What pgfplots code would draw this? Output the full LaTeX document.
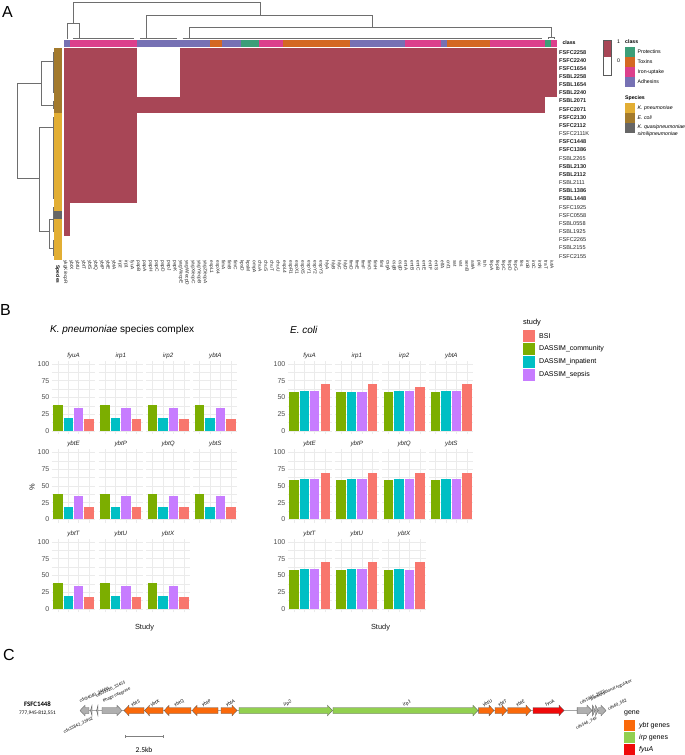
\documentclass[border=0pt]{standalone}
\usepackage{fontspec}
\setmainfont{Liberation Sans}
\newfontfamily\cfont{Carlito}
\usepackage{pgfplots}
\pgfplotsset{compat=1.18}
\newcommand\fs[1]{\fontsize{#1bp}{#1bp}\selectfont}

\definecolor{hm}{RGB}{168,70,86}
\definecolor{cpro}{RGB}{60,158,120}
\definecolor{ctox}{RGB}{212,104,35}
\definecolor{ciro}{RGB}{220,64,140}
\definecolor{cadh}{RGB}{118,113,180}
\definecolor{skp}{RGB}{226,174,52}
\definecolor{sec}{RGB}{163,122,45}
\definecolor{skq}{RGB}{102,102,102}
\definecolor{dend}{RGB}{110,110,110}
\definecolor{cbsi}{RGB}{248,118,109}
\definecolor{ccom}{RGB}{124,174,0}
\definecolor{cinp}{RGB}{0,191,196}
\definecolor{csep}{RGB}{199,124,255}
\definecolor{gridc}{RGB}{235,235,235}
\definecolor{tickc}{RGB}{77,77,77}
\definecolor{gybt}{RGB}{250,105,10}
\definecolor{girp}{RGB}{146,208,80}
\definecolor{gfyu}{RGB}{240,10,10}
\definecolor{ggry}{RGB}{175,175,175}
\definecolor{gedge}{RGB}{90,90,90}

\pgfplotsset{
  facet/.style={anchor=north west, scale only axis, width=44bp, height=73.7bp,
    ybar, bar width=0.9, xmin=0.4, xmax=4.6, ymin=-5, ymax=105,
    xtick={1,2,3,4}, xticklabels={}, ytick={0,25,50,75,100},
    minor ytick={12.5,37.5,62.5,87.5}, yticklabels={},
    grid=both, major grid style={draw=gridc, line width=0.55bp},
    minor grid style={draw=gridc, line width=0.3bp},
    axis line style={draw=none}, major tick length=0pt, minor tick length=0pt,
    clip=false},
  ylab/.style={yticklabels={0,25,50,75,100},
    yticklabel style={font=\fs{7}, text=tickc, inner sep=0pt, xshift=-2bp}},
}

% one facet: x, y(top), gene, community, inpatient, sepsis, BSI, extra options
\newcommand{\facet}[8]{%
  \begin{axis}[facet, at={(#1bp,-#2bp)}, #8]
    \addplot[bar shift=0pt, fill=ccom, draw=none] coordinates {(1,#4)};
    \addplot[bar shift=0pt, fill=cinp, draw=none] coordinates {(2,#5)};
    \addplot[bar shift=0pt, fill=csep, draw=none] coordinates {(3,#6)};
    \addplot[bar shift=0pt, fill=cbsi, draw=none] coordinates {(4,#7)};
    \node[anchor=base, yshift=3.3bp, font=\fs{6.2}\itshape, text=black!85]
      at (axis description cs:0.5,1) {#3};
  \end{axis}}

\newcommand{\blk}[5]{\addplot[fill=#5, draw=none] coordinates {(#1,#3) (#2,#3) (#2,#4) (#1,#4)} -- cycle;}

% genes in kb: start, end, colour
\newcommand{\gener}[3]{%
  \pgfmathsetmacro\gA{#1}\pgfmathsetmacro\gB{#2}\pgfmathsetmacro\gH{max(#1,#2-0.33)}%
  \addplot[fill=#3, draw=gedge, line width=0.3bp] coordinates
    {(\gA,-3) (\gH,-3) (\gH,-5.3) (\gB,0) (\gH,5.3) (\gH,3) (\gA,3)} -- cycle;}
\newcommand{\genel}[3]{%
  \pgfmathsetmacro\gA{#1}\pgfmathsetmacro\gB{#2}\pgfmathsetmacro\gH{min(#2,#1+0.33)}%
  \addplot[fill=#3, draw=gedge, line width=0.3bp] coordinates
    {(\gB,-3) (\gH,-3) (\gH,-5.3) (\gA,0) (\gH,5.3) (\gH,3) (\gB,3)} -- cycle;}

\begin{document}
\begin{tikzpicture}[x=1bp, y=-1bp]
\useasboundingbox (0,0) rectangle (685,755);
\fill[white] (0,0) rectangle (685,755);

%% ---------------- Panel A ----------------
\begin{axis}[at={(64bp,-48bp)}, anchor=north west, scale only axis, width=493bp, height=212.2bp,
  xmin=0, xmax=81, ymin=0, ymax=26, clip=false,
  axis line style={draw=none}, major tick length=0pt,
  xtick={0.5,1.5,...,80.5},
  xticklabels={ykgK/ecpR,ybtX,ybtU,ybtT,ybtS,ybtQ,ybtP,ybtE,ybtA,irp2,irp1,fyuA,
    papB,papA,papH,papC,papD,papJ,papK,yagV/ecpE,yagW/ecpD,yagX/ecpC,yagY/ecpB,yagZ/ecpA,
    espL1,espX4,fimA,fimB,fimC,kpsD,kpsM,ompA,chuA,chuS,chuT,chuU,
    espL4,espR1,espX1,espX5,espY1,espY2,espY3,hlyA,hlyB,hlyC,hlyD,
    fimD,fimE,fimF,fimG,fimH,fimI,csgA,csgB,csgD,entA,entB,entC,entE,entF,entS,elfA,
    cnf1,sat,vat,senB,astA,pic,tsh,fepA,fepB,fepC,fepD,fepG,fes,iroB,iroC,iroN,traT,iutA},
  xticklabel style={rotate=-90, anchor=west, font=\fs{4.8}, text=black!85, inner sep=0pt, yshift=-1.8bp},
  ytick={0.5,1.5,...,25.5},
  yticklabels={FSFC2155,FSBL2155,FSFC2265,FSBL1925,FSBL0558,FSFC0558,FSFC1925,
    \textbf{FSBL1448},\textbf{FSBL1386},FSBL2111,\textbf{FSBL2112},\textbf{FSBL2130},FSBL2265,
    \textbf{FSFC1386},\textbf{FSFC1448},FSFC2111K,\textbf{FSFC2112},\textbf{FSFC2130},
    \textbf{FSFC2071},\textbf{FSBL2071},\textbf{FSBL2240},\textbf{FSBL1654},\textbf{FSBL2258},
    \textbf{FSFC1654},\textbf{FSFC2240},\textbf{FSFC2258}},
  yticklabel pos=right,
  yticklabel style={anchor=west, font=\fs{5.6}, text=black!85, inner sep=0pt, xshift=2bp}]
% presence (1) cells
\blk{0}{12}{20}{26}{hm}
\blk{19}{81}{20}{26}{hm}
\blk{0}{79}{18}{20}{hm}
\blk{0}{12}{7}{18}{hm}
\blk{0}{1}{3}{7}{hm}
% class annotation
\blk{0}{1}{26.18}{27.04}{cadh}
\blk{1}{12}{26.18}{27.04}{ciro}
\blk{12}{24}{26.18}{27.04}{cadh}
\blk{24}{26}{26.18}{27.04}{ctox}
\blk{26}{29}{26.18}{27.04}{cadh}
\blk{29}{32}{26.18}{27.04}{cpro}
\blk{32}{36}{26.18}{27.04}{ciro}
\blk{36}{47}{26.18}{27.04}{ctox}
\blk{47}{56}{26.18}{27.04}{cadh}
\blk{56}{62}{26.18}{27.04}{ciro}
\blk{62}{63}{26.18}{27.04}{cadh}
\blk{63}{70}{26.18}{27.04}{ctox}
\blk{70}{79}{26.18}{27.04}{ciro}
\blk{79}{80}{26.18}{27.04}{cpro}
\blk{80}{81}{26.18}{27.04}{ciro}
% species annotation
\blk{-1.725}{-0.41}{18}{26}{sec}
\blk{-1.725}{-0.41}{6}{18}{skp}
\blk{-1.725}{-0.41}{5}{6}{skq}
\blk{-1.725}{-0.41}{0}{5}{skp}
\end{axis}

% dendrograms, in pixel units
\begin{axis}[at={(0bp,0bp)}, anchor=north west, scale only axis, width=685bp, height=300bp,
  xmin=0, xmax=685, ymin=0, ymax=300, y dir=reverse, hide axis, clip=false]
\addplot[draw=dend, line width=0.6bp] coordinates {(73,22.9) (73,2) (260,2) (260,15.6)};
\addplot[draw=dend, line width=0.6bp] coordinates {(67,39) (67,22.9) (79,22.9) (79,38.6)};
\addplot[draw=dend, line width=0.6bp] coordinates {(146,38.6) (146,15.6) (372,15.6) (372,26.9)};
\addplot[draw=dend, line width=0.6bp] coordinates {(189,38.6) (189,26.9) (551,26.9) (551,37.5)};
\addplot[draw=dend, line width=0.6bp] coordinates {(547.9,39) (547.9,37.5) (554,37.5) (554,39)};
\addplot[draw=dend, line width=0.6bp] coordinates {(73.1,38.6) (134,38.6)};
\addplot[draw=dend, line width=0.6bp] coordinates {(140.1,38.6) (176.6,38.6)};
\addplot[draw=dend, line width=0.6bp] coordinates {(182.7,38.6) (541.7,38.6)};
% rows
\addplot[draw=dend, line width=0.6bp] coordinates {(41,83) (17,83) (17,178) (39,178)};
\addplot[draw=dend, line width=0.6bp] coordinates {(53,61) (41,61) (41,105) (53,105)};
\addplot[draw=dend, line width=0.6bp] coordinates {(53,127) (39,127) (39,231) (49,231)};
\addplot[draw=dend, line width=0.6bp] coordinates {(53,219) (49,219) (49,248) (53,248)};
\addplot[draw=dend, line width=0.6bp] coordinates {(53,52.1) (53,92.9)};
\addplot[draw=dend, line width=0.6bp] coordinates {(53,101) (53,109.2)};
\addplot[draw=dend, line width=0.6bp] coordinates {(53,117.4) (53,199)};
\addplot[draw=dend, line width=0.6bp] coordinates {(53,207.2) (53,231.6)};
\addplot[draw=dend, line width=0.6bp] coordinates {(53,239.8) (53,256)};
\end{axis}

\node[font=\fs{16}] at (7.5,11.5) {A};
\node[anchor=west, font=\bfseries\fs{5.2}] at (559,43) {class};
\node[rotate=-90, anchor=west, font=\bfseries\fs{4.8}] at (57.5,262) {Species};
% colour key
\fill[hm] (603,40) rectangle (611,57.5);
\draw[gedge, line width=0.4bp] (603,40) rectangle (611,75);
\node[anchor=west, font=\fs{5.2}] at (613.5,42) {1};
\node[anchor=west, font=\fs{5.2}] at (613.5,61) {0};
% class key
\node[anchor=west, font=\bfseries\fs{5.2}, inner sep=0pt] at (625,42) {class};
\fill[cpro] (625,47) rectangle (635,57);
\fill[ctox] (625,57) rectangle (635,67);
\fill[ciro] (625,67) rectangle (635,77);
\fill[cadh] (625,77) rectangle (635,87);
\node[anchor=west, font=\fs{5.2}, inner sep=0pt] at (637.5,52) {Protectins};
\node[anchor=west, font=\fs{5.2}, inner sep=0pt] at (637.5,62) {Toxins};
\node[anchor=west, font=\fs{5.2}, inner sep=0pt] at (637.5,72) {Iron-uptake};
\node[anchor=west, font=\fs{5.2}, inner sep=0pt] at (637.5,82) {Adhesins};
\node[anchor=west, font=\bfseries\fs{5.2}, inner sep=0pt] at (625,98) {Species};
\fill[skp] (625,103) rectangle (635,113);
\fill[sec] (625,113) rectangle (635,123);
\fill[skq] (625,123) rectangle (635,133);
\node[anchor=west, font=\itshape\fs{5.2}, inner sep=0pt] at (637.5,108) {K. pneumoniae};
\node[anchor=west, font=\itshape\fs{5.2}, inner sep=0pt] at (637.5,118) {E. coli};
\node[anchor=west, font=\itshape\fs{5.2}, inner sep=0pt] at (637.5,127.5) {K. quasipneumoniae};
\node[anchor=west, font=\itshape\fs{5.2}, inner sep=0pt] at (637.5,134) {similipneumoniae};

%% ---------------- Panel B ----------------
\node[font=\fs{16}] at (5.5,310) {B};
\node[anchor=west, font=\fs{10}, inner sep=0pt] at (50,330) {\textit{K. pneumoniae} species complex};
\node[anchor=west, font=\itshape\fs{10}, inner sep=0pt] at (290,330) {E. coli};

\facet{51.5}{360.6}{fyuA}{38.5}{19.2}{34.6}{18.2}{ylab}
\facet{98.8}{360.6}{irp1}{38.5}{19.2}{34.6}{18.2}{}
\facet{146.1}{360.6}{irp2}{38.5}{19.2}{34.6}{18.2}{}
\facet{193.4}{360.6}{ybtA}{38.5}{19.2}{34.6}{18.2}{}
\facet{51.5}{449.1}{ybtE}{38.5}{19.2}{34.6}{18.2}{ylab}
\facet{98.8}{449.1}{ybtP}{38.5}{19.2}{34.6}{18.2}{}
\facet{146.1}{449.1}{ybtQ}{38.5}{19.2}{34.6}{18.2}{}
\facet{193.4}{449.1}{ybtS}{38.5}{19.2}{34.6}{18.2}{}
\facet{51.5}{538.6}{ybtT}{38.5}{19.2}{34.6}{18.2}{ylab}
\facet{98.8}{538.6}{ybtU}{38.5}{19.2}{34.6}{18.2}{}
\facet{146.1}{538.6}{ybtX}{38.5}{19.2}{34.6}{18.2}{}

\facet{287.5}{360.6}{fyuA}{58.3}{60}{60}{70}{ylab}
\facet{334.8}{360.6}{irp1}{58.3}{58.3}{58.3}{70}{}
\facet{382.1}{360.6}{irp2}{58.3}{60}{60}{65.8}{}
\facet{429.4}{360.6}{ybtA}{58.3}{60}{60}{70}{}
\facet{287.5}{449.1}{ybtE}{58.3}{60}{60}{70}{ylab}
\facet{334.8}{449.1}{ybtP}{58.3}{60}{60}{70}{}
\facet{382.1}{449.1}{ybtQ}{58.3}{60}{60}{70}{}
\facet{429.4}{449.1}{ybtS}{58.3}{60}{60}{70}{}
\facet{287.5}{538.6}{ybtT}{58.3}{60}{60}{70}{ylab}
\facet{334.8}{538.6}{ybtU}{58.3}{60}{60}{70}{}
\facet{382.1}{538.6}{ybtX}{58.3}{60}{58.3}{70}{}

\node[rotate=90, font=\fs{7.4}, text=black!90] at (32,487) {\%};
\node[font=\fs{7.4}, text=black!90] at (144.5,628) {Study};
\node[font=\fs{7.4}, text=black!90] at (380.5,628) {Study};
% study key
\node[anchor=west, font=\fs{7.4}, inner sep=0pt] at (523,323) {study};
\fill[cbsi] (523,330) rectangle (534.5,341.5);
\fill[ccom] (523,343) rectangle (534.5,354.5);
\fill[cinp] (523,356) rectangle (534.5,367.5);
\fill[csep] (523,369) rectangle (534.5,380.5);
\node[anchor=west, font=\fs{7}, inner sep=0pt] at (539,336) {BSI};
\node[anchor=west, font=\fs{7}, inner sep=0pt] at (539,349) {DASSIM\_community};
\node[anchor=west, font=\fs{7}, inner sep=0pt] at (539,362) {DASSIM\_inpatient};
\node[anchor=west, font=\fs{7}, inner sep=0pt] at (539,375) {DASSIM\_sepsis};

%% ---------------- Panel C ----------------
\node[font=\fs{16}] at (9,655) {C};
\begin{axis}[at={(80bp,-700.5bp)}, anchor=north west, scale only axis, width=526bp, height=20bp,
  xmin=0, xmax=34.6, ymin=-10, ymax=10, hide axis, clip=false]
\addplot[draw=gray!70, line width=0.5bp] coordinates {(0,0) (34.6,0)};
\genel{0}{0.59}{ggry}
\genel{0.69}{0.79}{ggry}
\genel{1.09}{1.18}{ggry}
\gener{1.45}{2.76}{ggry}
\genel{2.89}{4.21}{gybt}
\genel{4.24}{5.46}{gybt}
\genel{5.53}{7.30}{gybt}
\genel{7.37}{9.08}{gybt}
\gener{9.28}{10.33}{gybt}
\gener{10.46}{16.61}{girp}
\gener{16.64}{26.18}{girp}
\gener{26.22}{27.24}{gybt}
\gener{27.30}{28.09}{gybt}
\gener{28.13}{29.67}{gybt}
\gener{29.80}{31.84}{gfyu}
\gener{32.70}{33.68}{ggry}
\gener{33.72}{33.88}{ggry}
\gener{33.91}{34.08}{ggry}
\gener{34.11}{34.60}{ggry}
% 2.5 kb scale bar
\addplot[draw=gray, line width=0.5bp] coordinates {(2.96,-26) (5.46,-26)};
\addplot[draw=gray, line width=0.5bp] coordinates {(2.96,-24.3) (2.96,-27.7)};
\addplot[draw=gray, line width=0.5bp] coordinates {(5.46,-24.3) (5.46,-27.7)};
\end{axis}

\node[font=\cfont\bfseries\fs{6.8}] at (37.5,704.5) {FSFC1448};
\node[font=\cfont\fs{5.3}] at (37.5,713) {777,945-812,551};
\node[font=\cfont\fs{7.5}] at (144,750) {2.5kb};
\begin{scope}[every node/.style={font=\cfont\fs{4.6}, rotate=25, inner sep=0pt}]
\node[anchor=south west] at (80.5,703.5) {cds34060\_34606};
\node[anchor=south west] at (97,698) {cds33320\_33455};
\node[anchor=south west] at (104,703.5) {Phage integrase};
\node[anchor=north east] at (92,716.5) {cds33842\_33962};
\node[anchor=south west] at (581,705) {cds1095\_2022};
\node[anchor=south west] at (591,702) {Transcriptional regulator};
\node[anchor=south west] at (609,711) {cds60\_582};
\node[anchor=north east] at (596,716.5) {cds546\_749};
\end{scope}
\begin{scope}[every node/.style={font=\cfont\fs{5}, rotate=25, inner sep=0pt, anchor=south}]
\node at (136.5,705.5) {ybtS};
\node at (156,705.5) {ybtX};
\node at (180,705.5) {ybtQ};
\node at (207.5,705.5) {ybtP};
\node at (231.5,705.5) {ybtA};
\node at (288.5,705.5) {irp2};
\node at (408,705.5) {irp1};
\node at (488.5,705.5) {ybtU};
\node at (503.5,705.5) {ybtT};
\node at (521.5,705.5) {ybtE};
\node at (551,705.5) {fyuA};
\end{scope}
% gene key
\node[anchor=west, font=\fs{7}, inner sep=0pt] at (624,713) {gene};
\fill[gybt] (624,720) rectangle (635,731);
\fill[girp] (624,732) rectangle (635,743);
\fill[gfyu] (624,744) rectangle (635,755);
\node[anchor=west, font=\fs{7}, inner sep=0pt] at (639,725.5) {\textit{ybt} genes};
\node[anchor=west, font=\fs{7}, inner sep=0pt] at (639,737.5) {\textit{irp} genes};
\node[anchor=west, font=\fs{7}, inner sep=0pt] at (639,749.5) {\textit{fyuA}};
\end{tikzpicture}
\end{document}
